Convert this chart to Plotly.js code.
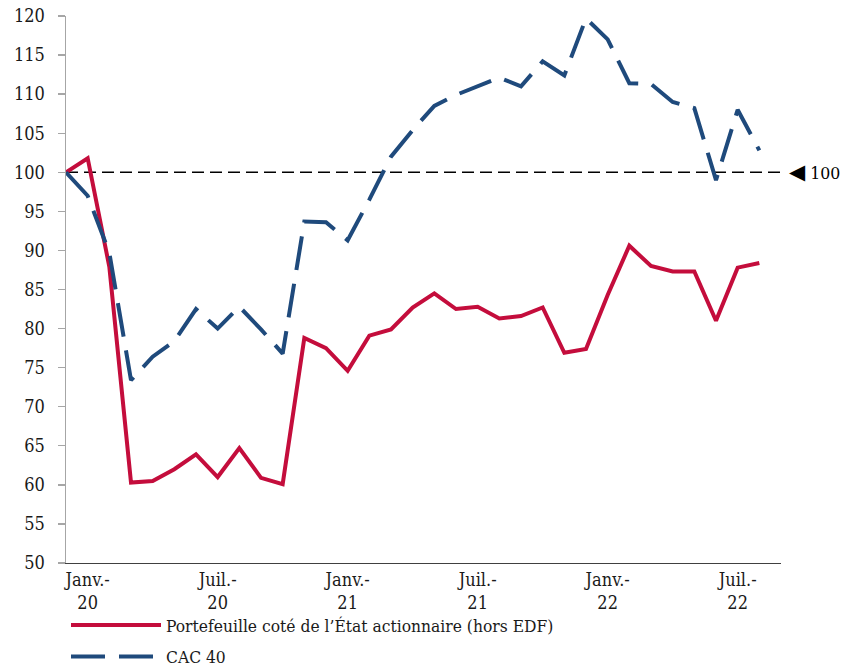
<!DOCTYPE html>
<html><head><meta charset="utf-8">
<script src="https://cdn.plot.ly/plotly-3.0.1.min.js"></script>
<style>body{margin:0;background:#fff}#chart{width:848px;height:669px}</style>
</head><body><div id="chart"></div>
<script>
const months = ['2019-12','2020-01','2020-02','2020-03','2020-04','2020-05','2020-06','2020-07','2020-08','2020-09','2020-10','2020-11','2020-12',
  '2021-01','2021-02','2021-03','2021-04','2021-05','2021-06','2021-07','2021-08','2021-09','2021-10','2021-11','2021-12',
  '2022-01','2022-02','2022-03','2022-04','2022-05','2022-06','2022-07','2022-08'];
const portefeuille = [100, 101.8, 87.9, 60.3, 60.5, 62.0, 63.9, 61.0, 64.7, 60.9, 60.1, 78.8, 77.5, 74.6, 79.1, 79.9, 82.7, 84.5, 82.5, 82.8, 81.3, 81.6, 82.7, 76.9, 77.4, 84.3, 90.6, 88.0, 87.3, 87.3, 81.0, 87.8, 88.4];
const cac40 = [100, 97.0, 89.7, 73.4, 76.4, 78.4, 82.5, 80.0, 82.8, 79.9, 76.8, 93.7, 93.6, 91.3, 96.5, 102.0, 105.4, 108.5, 109.9, 111.0, 112.1, 111.0, 114.2, 112.4, 119.7, 117.0, 111.4, 111.3, 109.0, 108.2, 99.0, 108.0, 102.8];
const tickMonths = ['2020-01','2020-07','2021-01','2021-07','2022-01','2022-07'];
const tickLabels = ['Janv.-<br>20','Juil.-<br>20','Janv.-<br>21','Juil.-<br>21','Janv.-<br>22','Juil.-<br>22'];
const seriesNames = ['Portefeuille coté de l\u2019État actionnaire (hors EDF)', 'CAC 40'];
const refLevel = 100;
const refLabel = '100';

const xIdx = months.map((m, i) => i);
const FONT = 'DejaVu Serif Condensed, DejaVu Serif';

const traces = [
  {x: xIdx, y: portefeuille, name: seriesNames[0], type: 'scatter', mode: 'lines',
   line: {color: '#C40D3C', width: 4}, legendgroup: 'a'},
  {x: xIdx, y: cac40, name: seriesNames[1], type: 'scatter', mode: 'lines',
   line: {color: '#1F4A7C', width: 4, dash: '34px,14px'}, legendgroup: 'b'}
];

const layout = {
  width: 848, height: 669,
  margin: {l: 66, r: 67, t: 16, b: 106, autoexpand: false},
  paper_bgcolor: '#fff', plot_bgcolor: '#fff',
  font: {family: FONT, size: 17, color: '#1a1a1a'},
  showlegend: true,
  legend: {x: 0, xanchor: 'left', y: -0.081, yanchor: 'top', orientation: 'v', itemwidth: 90,
           font: {family: FONT, size: 17.3, color: '#1a1a1a'}, tracegroupgap: 6, bgcolor: 'rgba(0,0,0,0)'},
  xaxis: {range: [0, months.length], tickmode: 'array',
          tickvals: tickMonths.map(m => months.indexOf(m)), ticktext: tickLabels,
          showgrid: false, zeroline: false, showline: true, linecolor: '#404040', linewidth: 1.3,
          ticks: '', tickfont: {family: FONT, size: 18, color: '#1a1a1a'}},
  yaxis: {range: [50, 120], dtick: 5, tick0: 50, showgrid: false, zeroline: false,
          showline: true, linecolor: '#a6a6a6', linewidth: 1.5,
          ticks: 'outside', ticklen: 7, tickcolor: '#a6a6a6', tickwidth: 1.3,
          ticklabelstandoff: 9,
          tickfont: {family: FONT, size: 18, color: '#1a1a1a'}},
  shapes: [
    {type: 'line', xref: 'paper', x0: 0, x1: 1.003, yref: 'y', y0: refLevel, y1: refLevel,
     line: {color: '#000', width: 1.6, dash: '12px,6px'}, layer: 'below'}
  ],
  annotations: [
    {xref: 'paper', x: 1.009, yref: 'y', y: refLevel, xanchor: 'left', yanchor: 'middle', showarrow: false,
     text: '<span style="font-family:DejaVu Sans;font-size:21px">\u25C0</span> ' + refLabel,
     font: {family: FONT, size: 17.5, color: '#000'}}
  ]
};

Plotly.newPlot('chart', traces, layout, {displayModeBar: false, staticPlot: true});
</script>
</body></html>
